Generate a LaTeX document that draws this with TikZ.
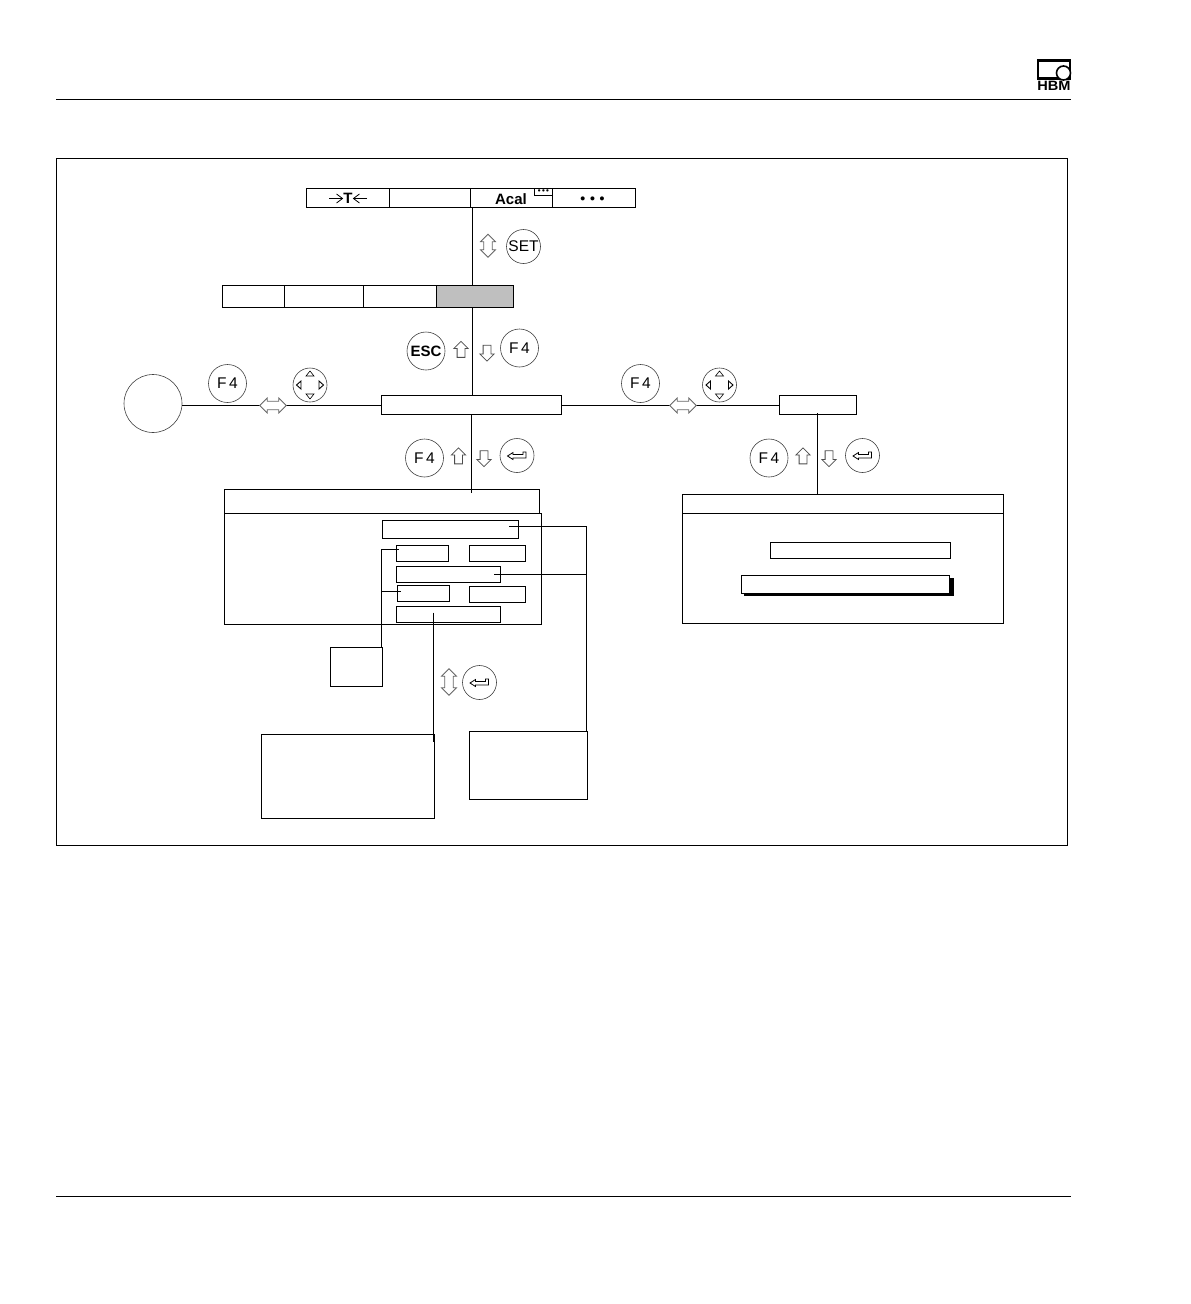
\documentclass[tikz,border=0pt]{standalone}
\usepackage{fontspec}
\setmainfont{Liberation Sans}
\usetikzlibrary{shapes.arrows,arrows.meta}
\tikzset{
  boxnode/.style={draw,line width=1pt,inner sep=0pt,outer sep=0pt},
  conline/.style={line width=1pt,line cap=butt},
  keynode/.style={draw,circle,line width=0.6pt,draw=black!75,inner sep=0pt,outer sep=0pt,minimum size=38pt,font=\fontsize{15.5}{15.5}\selectfont},
  smallkey/.style={keynode,minimum size=34pt},
  uparrow/.style={draw,line width=0.8pt,draw=black!70,single arrow,inner xsep=0pt,inner ysep=3.5pt,outer sep=0pt,minimum height=16pt,single arrow head extend=3.2pt,single arrow head indent=0pt,rotate=90},
  downarrow/.style={uparrow,rotate=180},
  twoarrow/.style={draw,fill=white,line width=0.8pt,draw=black!60,double arrow,inner xsep=0pt,inner ysep=3.8pt,outer sep=0pt,minimum height=26.5pt,double arrow head extend=3.3pt,double arrow head indent=0pt},
  enterkey/.pic={
    \node[smallkey] (-c) at (0,0) {};
    \draw[line width=0.8pt] (-9.5,0.5) -- (-4,-3) -- (-4,-1) -- (6,-1) -- (6,-3.5) -- (9,-3.5) -- (9,2.5) -- (-4,2.5) -- (-4,4) -- cycle;
  },
  cursorkey/.pic={
    \node[smallkey] (-c) at (0,0) {};
    \draw[line width=0.6pt] (-4,-9) -- (4,-9) -- (0,-14) -- cycle;
    \draw[line width=0.6pt] (-4,9) -- (4,9) -- (0,14) -- cycle;
    \draw[line width=0.9pt] (-9,-4) -- (-9,4) -- (-13.5,0) -- cycle;
    \draw[line width=0.9pt] (9,-4) -- (9,4) -- (13.5,0) -- cycle;
  }
}
\begin{document}
\begin{tikzpicture}[x=1pt,y=-1pt]
\path[use as bounding box] (0,0) rectangle (1191,1304);
% page head and foot
\coordinate (headL) at (56,99.5);
\coordinate (headR) at (1071,99.5);
\coordinate (footL) at (56,1196.5);
\coordinate (footR) at (1071,1196.5);
\draw[conline] (headL) -- (headR);
\draw[conline] (footL) -- (footR);
\node[draw,line width=2.4pt,inner sep=0pt,outer sep=0pt,minimum width=32pt,minimum height=18pt] (logobox) at (1054,69.5) {};
\node[circle,draw,fill=white,line width=1.6pt,inner sep=0pt,minimum size=14pt] (logocirc) at (1063.5,73) {};
\node[inner sep=0pt,xscale=1.08,font=\fontsize{13.5}{13.5}\selectfont\bfseries] (logotext) at (1054,86) {HBM};
% frame
\node[boxnode,minimum width=1011pt,minimum height=687pt] (frame) at (562,502) {};
% top menu
\node[boxnode,minimum width=83pt,minimum height=19pt] (topA) at (348,198) {};
\node[boxnode,minimum width=81pt,minimum height=19pt] (topB) at (430,198) {};
\node[boxnode,minimum width=82pt,minimum height=19pt] (topC) at (511.5,198) {};
\node[boxnode,minimum width=83pt,minimum height=19pt] (topD) at (594,198) {};
\node[inner sep=0pt,font=\fontsize{15}{15}\selectfont\bfseries] (tmark) at (348,198.5) {T};
\coordinate (tleft) at (329,198.5);
\coordinate (tright) at (367,198.5);
\draw[line width=0.8pt,-{Straight Barb[length=6pt,width=9pt]}] (tleft) -- (tmark.west);
\draw[line width=0.8pt,-{Straight Barb[length=6pt,width=9pt]}] (tright) -- (tmark.east);
\node[inner sep=0pt,font=\fontsize{15}{15}\selectfont\bfseries] (acal) at (511,199) {Acal};
\node[boxnode,line width=0.8pt,minimum width=18pt,minimum height=7.5pt] (acalbox) at (543.5,192) {};
\node[inner sep=0pt,font=\fontsize{8}{8}\selectfont\bfseries] (acaldots) at (543.5,191.5) {•\,•\,•};
\node[inner sep=0pt,font=\fontsize{14}{14}\selectfont\bfseries] (topdots) at (592.5,200.5) {•\,\,•\,\,•};
% second menu
\node[boxnode,minimum width=62pt,minimum height=22pt] (secA) at (253.5,296.5) {};
\node[boxnode,minimum width=79pt,minimum height=22pt] (secB) at (324,296.5) {};
\node[boxnode,minimum width=73pt,minimum height=22pt] (secC) at (400,296.5) {};
\node[boxnode,fill=black!25,minimum width=77pt,minimum height=22pt] (secD) at (475,296.5) {};
% keys between the menus
\coordinate (topout) at (472.5,207);
\coordinate (secin) at (472.5,285);
\coordinate (secout) at (472.5,307);
\coordinate (midin) at (472.5,395);
\draw[conline] (topout) -- (secin);
\draw[conline] (secout) -- (midin);
\node[twoarrow,rotate=90,minimum height=23pt] (setarrow) at (488,245.7) {};
\node[smallkey] (setkey) at (523.5,246.5) {SET};
\node[keynode,font=\fontsize{15}{15}\selectfont\bfseries] (esckey) at (426,351) {ESC};
\node[uparrow] (escup) at (461,351.3) {};
\node[downarrow] (escdown) at (487,351.2) {};
\node[keynode] (fourA) at (519.5,348) {F\,4};
% middle row
\node[boxnode,minimum width=180pt,minimum height=19pt] (midbox) at (471.5,405) {};
\node[draw,circle,line width=0.6pt,draw=black!75,inner sep=0pt,outer sep=0pt,minimum size=58pt] (leftcirc) at (153,403.5) {};
\node[boxnode,minimum width=77pt,minimum height=19pt] (rightbox) at (818,405) {};
\coordinate (midL) at (381.5,405.5);
\coordinate (midR) at (561.5,405.5);
\coordinate (rightL) at (779.5,405.5);
\coordinate (circR) at (182,405.5);
\draw[conline] (circR) -- (midL);
\draw[conline] (midR) -- (rightL);
\node[twoarrow] (leftarrow) at (273,405.5) {};
\node[twoarrow] (rightarrow) at (683,405.5) {};
\node[keynode] (fourB) at (227.5,383.5) {F\,4};
\node[keynode] (fourC) at (640.5,383.5) {F\,4};
\pic (cursorA) at (310,385) {cursorkey};
\pic (cursorB) at (719.5,385) {cursorkey};
% keys down to the windows
\coordinate (midout) at (471.5,414);
\coordinate (winin) at (471.5,492.5);
\coordinate (rightout) at (817.5,413);
\coordinate (rwinin) at (817.5,494);
\draw[conline] (midout) -- (winin);
\draw[conline] (rightout) -- (rwinin);
\node[keynode] (fourD) at (424.5,458) {F\,4};
\node[uparrow] (winup) at (458.5,457.8) {};
\node[downarrow] (windown) at (484,456.7) {};
\pic (enterA) at (517,455.5) {enterkey};
\node[keynode] (fourE) at (769,458) {F\,4};
\node[uparrow] (rwinup) at (803,457.8) {};
\node[downarrow] (rwindown) at (829,456.7) {};
\pic (enterB) at (862.5,455.5) {enterkey};
% left window
\node[boxnode,minimum width=315pt,minimum height=24pt] (wintitle) at (382,501.5) {};
\node[boxnode,minimum width=317pt,minimum height=111pt] (winbody) at (383,569) {};
\node[boxnode,minimum width=136pt,minimum height=18pt] (fieldA) at (450.5,529.5) {};
\node[boxnode,minimum width=52pt,minimum height=16pt] (fieldB) at (422.5,553.5) {};
\node[boxnode,minimum width=56pt,minimum height=16pt] (fieldC) at (497.5,553.5) {};
\node[boxnode,minimum width=104pt,minimum height=16pt] (fieldD) at (448.5,574.5) {};
\node[boxnode,minimum width=52pt,minimum height=16pt] (fieldE) at (423.5,593.5) {};
\node[boxnode,minimum width=56pt,minimum height=16pt] (fieldF) at (497.5,594.5) {};
\node[boxnode,minimum width=104pt,minimum height=16pt] (fieldG) at (448.5,614.5) {};
% boxes under the left window
\node[boxnode,minimum width=52pt,minimum height=39pt] (smallbox) at (356.5,667) {};
\node[boxnode,minimum width=173pt,minimum height=84pt] (lowbox) at (348,776.5) {};
\node[boxnode,minimum width=118pt,minimum height=68pt] (sidebox) at (528.5,765.5) {};
\coordinate (smalltop) at (381.5,647);
\coordinate (smallup) at (381.5,549.5);
\coordinate (intoB) at (399,549.5);
\coordinate (smallmid) at (381.5,591.5);
\coordinate (intoE) at (400.5,591.5);
\draw[conline] (smalltop) -- (smallup) -- (intoB);
\draw[conline] (smallmid) -- (intoE);
\coordinate (sidetop) at (586.5,731.5);
\coordinate (sideup) at (586.5,526.5);
\coordinate (intoA) at (508.5,526.5);
\coordinate (sidemid) at (586.5,574.5);
\coordinate (intoD) at (494,574.5);
\draw[conline] (sidetop) -- (sideup) -- (intoA);
\draw[conline] (sidemid) -- (intoD);
\coordinate (fieldout) at (433.5,612.5);
\coordinate (lowin) at (433.5,742);
\draw[conline] (fieldout) -- (lowin);
\node[twoarrow,rotate=90] (lowarrow) at (449,682) {};
\pic (enterC) at (479.5,682.5) {enterkey};
% right window
\node[boxnode,minimum width=321pt,minimum height=129pt] (rwin) at (843,559) {};
\coordinate (rwinL) at (682.5,513.5);
\coordinate (rwinR) at (1003.5,513.5);
\draw[conline] (rwinL) -- (rwinR);
\node[boxnode,minimum width=180pt,minimum height=16pt] (rfieldA) at (860.5,550.5) {};
\node[fill=black,inner sep=0pt,outer sep=0pt,minimum width=210pt,minimum height=18pt] (rshadow) at (849,587) {};
\node[boxnode,fill=white,minimum width=208pt,minimum height=18pt] (rfieldB) at (845.5,584.5) {};
\end{tikzpicture}
\end{document}
